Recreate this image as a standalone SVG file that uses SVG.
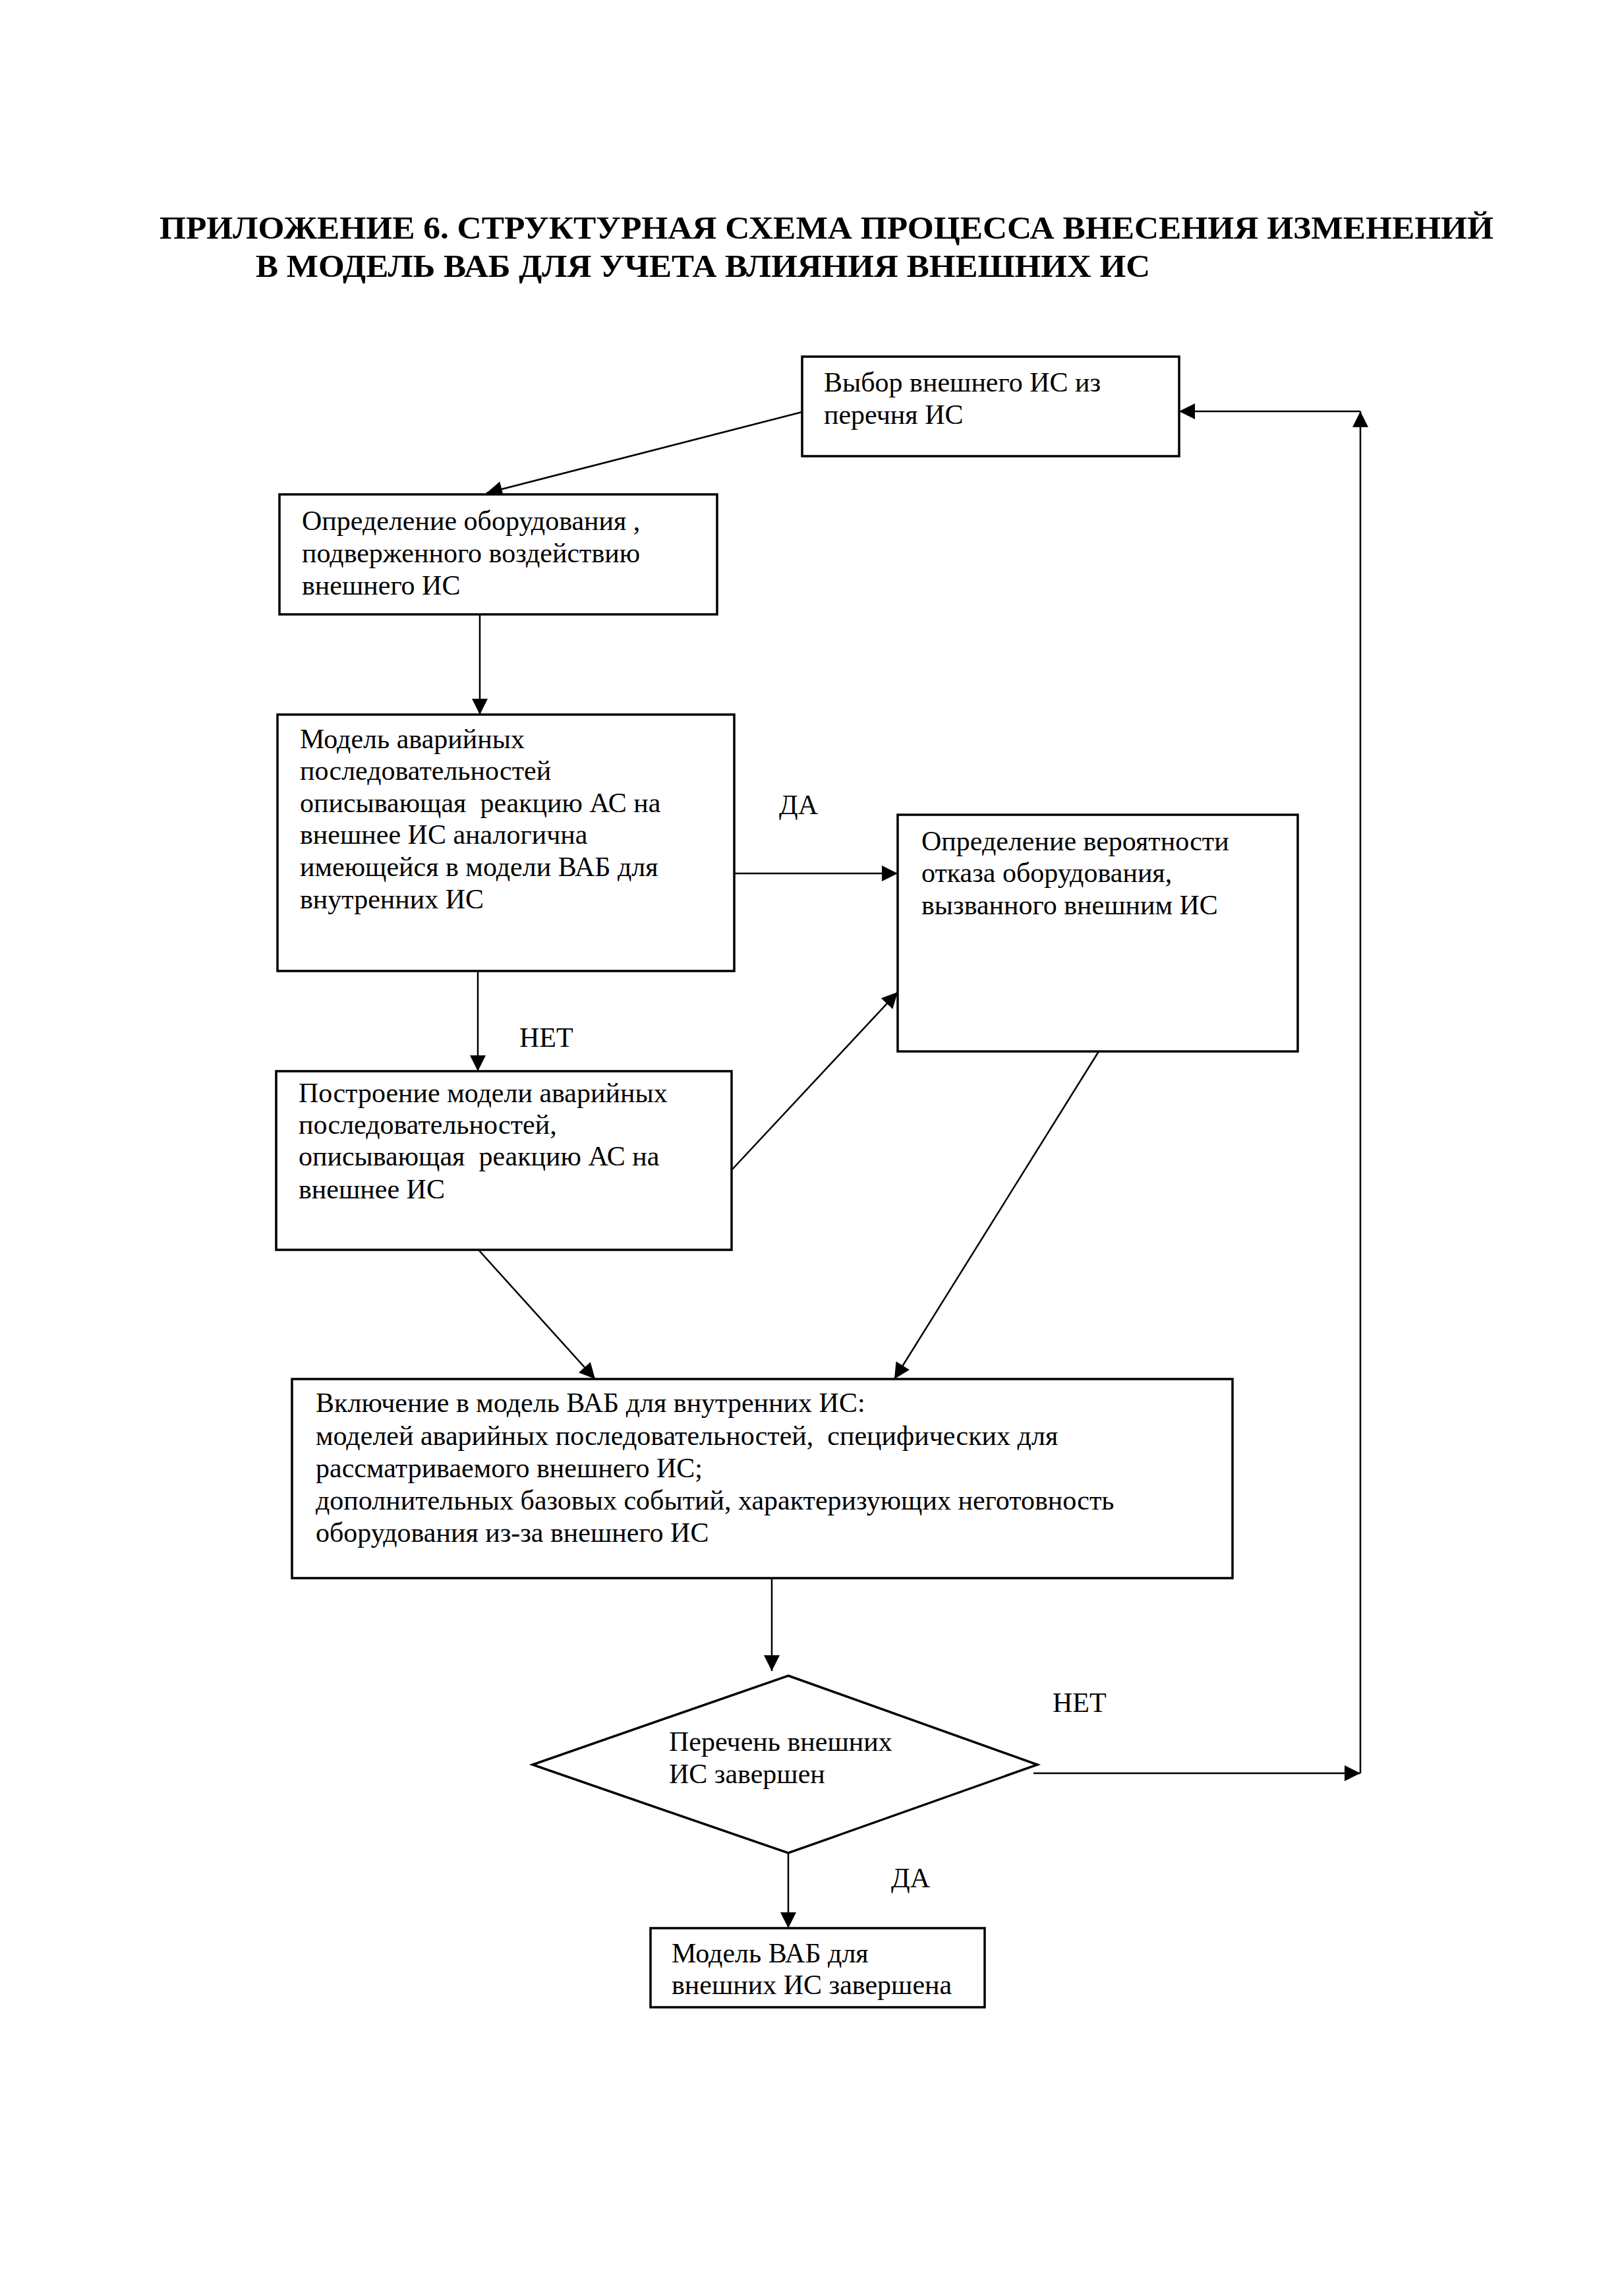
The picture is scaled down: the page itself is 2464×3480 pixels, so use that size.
<svg xmlns="http://www.w3.org/2000/svg" width="2464" height="3480" viewBox="0 0 2464 3480">
<style>
.bg{fill:#ffffff}
.box{fill:#ffffff;stroke:#000;stroke-width:3.5}
.ln{fill:none;stroke:#000;stroke-width:2.5}
.t{font-family:"Liberation Serif","Times New Roman",serif;font-size:42px;fill:#000}
.title{font-family:"Liberation Serif","Times New Roman",serif;font-size:48px;font-weight:bold;fill:#000}
</style>
<defs>
<marker id="ah" viewBox="0 0 10 10" refX="10" refY="5" markerUnits="userSpaceOnUse" markerWidth="34" markerHeight="24" orient="auto">
<path d="M0,0 L10,5 L0,10 z" fill="#000"/>
</marker>
</defs>
<rect class="bg" x="0" y="0" width="2464" height="3480"/>
<g id="title">
<text class="title" x="242" y="362" textLength="2024" lengthAdjust="spacingAndGlyphs">ПРИЛОЖЕНИЕ 6. СТРУКТУРНАЯ СХЕМА ПРОЦЕССА ВНЕСЕНИЯ ИЗМЕНЕНИЙ</text>
<text class="title" x="388" y="420" textLength="1357" lengthAdjust="spacingAndGlyphs">В МОДЕЛЬ ВАБ ДЛЯ УЧЕТА ВЛИЯНИЯ ВНЕШНИХ ИС</text>
</g>
<g id="connectors">
<line class="ln" x1="1217" y1="625" x2="738" y2="748" marker-end="url(#ah)"/>
<line class="ln" x1="728" y1="932" x2="728" y2="1084" marker-end="url(#ah)"/>
<line class="ln" x1="1114" y1="1325" x2="1362" y2="1325" marker-end="url(#ah)"/>
<line class="ln" x1="725" y1="1473" x2="725" y2="1625" marker-end="url(#ah)"/>
<line class="ln" x1="1110" y1="1775" x2="1362" y2="1505" marker-end="url(#ah)"/>
<line class="ln" x1="726" y1="1896" x2="903" y2="2092" marker-end="url(#ah)"/>
<line class="ln" x1="1667" y1="1595" x2="1357" y2="2092" marker-end="url(#ah)"/>
<line class="ln" x1="1171" y1="2394" x2="1171" y2="2535" marker-end="url(#ah)"/>
<line class="ln" x1="1196" y1="2811" x2="1196" y2="2925" marker-end="url(#ah)"/>
<line class="ln" x1="1568" y1="2690" x2="2064" y2="2690" marker-end="url(#ah)"/>
<line class="ln" x1="2064" y1="2690" x2="2064" y2="624" marker-end="url(#ah)"/>
<line class="ln" x1="2064" y1="624" x2="1789" y2="624" marker-end="url(#ah)"/>
<text class="t" x="1182" y="1235">ДА</text>
<text class="t" x="788" y="1588">НЕТ</text>
<text class="t" x="1597" y="2597">НЕТ</text>
<text class="t" x="1352" y="2863">ДА</text>
</g>
<g id="n1">
<rect class="box" x="1217" y="541" width="572" height="151"/>
<text class="t" x="1250" y="594">Выбор внешнего ИС из</text>
<text class="t" x="1250" y="643">перечня ИС</text>
</g>
<g id="n2">
<rect class="box" x="424" y="750" width="664" height="182"/>
<text class="t" x="458" y="804">Определение оборудования ,</text>
<text class="t" x="458" y="853">подверженного воздействию</text>
<text class="t" x="458" y="902">внешнего ИС</text>
</g>
<g id="n3">
<rect class="box" x="421" y="1084" width="693" height="389"/>
<text class="t" x="455" y="1135">Модель аварийных</text>
<text class="t" x="455" y="1183">последовательностей</text>
<text class="t" x="455" y="1232" xml:space="preserve">описывающая  реакцию АС на</text>
<text class="t" x="455" y="1280">внешнее ИС аналогична</text>
<text class="t" x="455" y="1329">имеющейся в модели ВАБ для</text>
<text class="t" x="455" y="1378">внутренних ИС</text>
</g>
<g id="n4">
<rect class="box" x="1362" y="1236" width="607" height="359"/>
<text class="t" x="1398" y="1290">Определение вероятности</text>
<text class="t" x="1398" y="1338">отказа оборудования,</text>
<text class="t" x="1398" y="1387">вызванного внешним ИС</text>
</g>
<g id="n5">
<rect class="box" x="419" y="1625" width="691" height="271"/>
<text class="t" x="453" y="1672">Построение модели аварийных</text>
<text class="t" x="453" y="1720">последовательностей,</text>
<text class="t" x="453" y="1768" xml:space="preserve">описывающая  реакцию АС на</text>
<text class="t" x="453" y="1818">внешнее ИС</text>
</g>
<g id="n6">
<rect class="box" x="443" y="2092" width="1427" height="302"/>
<text class="t" x="479" y="2142">Включение в модель ВАБ для внутренних ИС:</text>
<text class="t" x="479" y="2192" xml:space="preserve">моделей аварийных последовательностей,  специфических для</text>
<text class="t" x="479" y="2241">рассматриваемого внешнего ИС;</text>
<text class="t" x="479" y="2290">дополнительных базовых событий, характеризующих неготовность</text>
<text class="t" x="479" y="2339">оборудования из-за внешнего ИС</text>
</g>
<g id="n7">
<polygon class="box" points="1196,2542 1574,2677 1196,2811 808,2677"/>
<text class="t" x="1015" y="2656">Перечень внешних</text>
<text class="t" x="1015" y="2705">ИС завершен</text>
</g>
<g id="n8">
<rect class="box" x="987" y="2925" width="507" height="120"/>
<text class="t" x="1019" y="2977">Модель ВАБ для</text>
<text class="t" x="1019" y="3025">внешних ИС завершена</text>
</g>
</svg>
